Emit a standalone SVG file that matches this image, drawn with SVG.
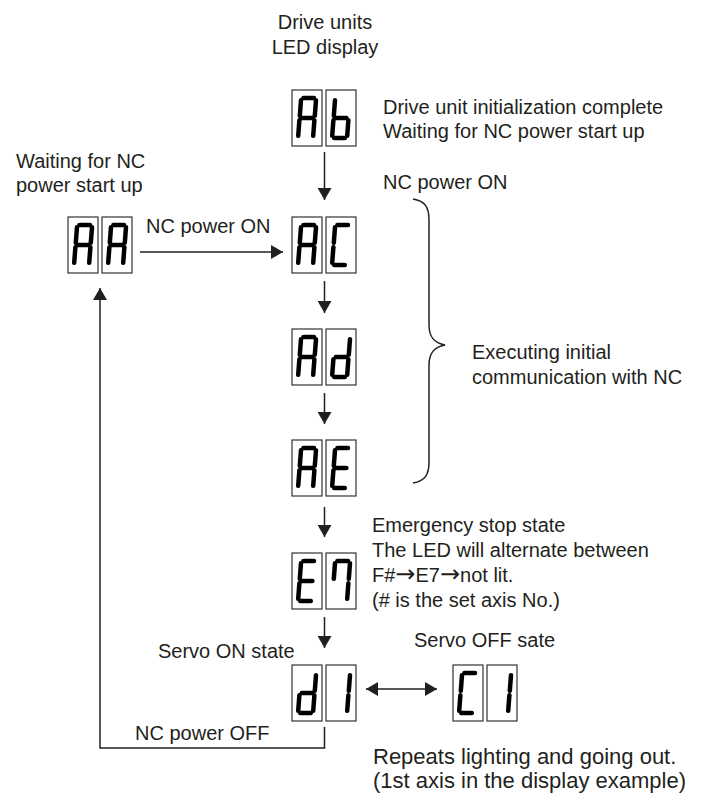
<svg xmlns="http://www.w3.org/2000/svg" xmlns:xlink="http://www.w3.org/1999/xlink" width="712" height="793" viewBox="0 0 712 793">
<style>
text{font-family:"Liberation Sans",Arial,sans-serif;font-size:20px;fill:#231f20}
.big{font-size:22px}
.arr{font-family:"DejaVu Sans",sans-serif;font-size:24px}
.box{fill:#fff;stroke:#333;stroke-width:1.2}
.seg{fill:none;stroke:#000;stroke-width:4.5;stroke-linecap:round}
.ln{fill:none;stroke:#231f20;stroke-width:1.5}
</style>
<defs>
<marker id="ah" viewBox="0 0 12 14" refX="12" refY="7" markerWidth="12" markerHeight="14" markerUnits="userSpaceOnUse" orient="auto-start-reverse">
<path d="M0 0L12 7L0 14z" fill="#231f20"/>
</marker>
<path id="dA" class="seg" d="M11.4 8H22M24 10.2L22.8 25.8M22.4 30.2L21.2 45.8M7.4 30.2L6.2 45.8M9 10.2L7.8 25.8M9.8 28H20.4"/>
<path id="db" class="seg" d="M22.4 30.2L21.2 45.8M8.2 48H18.8M7.4 30.2L6.2 45.8M9 10.2L7.8 25.8M9.8 28H20.4"/>
<path id="dC" class="seg" d="M11.4 8H22M8.2 48H18.8M7.4 30.2L6.2 45.8M9 10.2L7.8 25.8"/>
<path id="dd" class="seg" d="M24 10.2L22.8 25.8M22.4 30.2L21.2 45.8M8.2 48H18.8M7.4 30.2L6.2 45.8M9.8 28H20.4"/>
<path id="dE" class="seg" d="M11.4 8H22M8.2 48H18.8M7.4 30.2L6.2 45.8M9 10.2L7.8 25.8M9.8 28H20.4"/>
<path id="d7" class="seg" d="M11.4 8H22M24 10.2L22.8 25.8M22.4 30.2L21.2 45.8M9 10.2L7.8 25.8"/>
<path id="d1" class="seg" d="M24 10.2L22.8 25.8M22.4 30.2L21.2 45.8"/>
<rect id="bx" class="box" width="30" height="56"/>
</defs>

<g id="texts">
<text x="325" y="29" text-anchor="middle">Drive units</text>
<text x="325" y="54" text-anchor="middle">LED display</text>
<text x="383" y="114">Drive unit initialization complete</text>
<text x="383" y="138">Waiting for NC power start up</text>
<text x="16" y="168">Waiting for NC</text>
<text x="16" y="192">power start up</text>
</g>

<g id="node-Ab" transform="translate(292,90)">
<use href="#bx"/><use href="#bx" x="34"/>
<use href="#dA"/><use href="#db" x="34"/>
</g>
<g id="node-AA" transform="translate(68,217)">
<use href="#bx"/><use href="#bx" x="34"/>
<use href="#dA"/><use href="#dA" x="34"/>
</g>
<g id="node-AC" transform="translate(292,217)">
<use href="#bx"/><use href="#bx" x="34"/>
<use href="#dA"/><use href="#dC" x="34"/>
</g>
<g id="node-Ad" transform="translate(292,329)">
<use href="#bx"/><use href="#bx" x="34"/>
<use href="#dA"/><use href="#dd" x="34"/>
</g>
<g id="node-AE" transform="translate(292,440)">
<use href="#bx"/><use href="#bx" x="34"/>
<use href="#dA"/><use href="#dE" x="34"/>
</g>
<g id="node-E7" transform="translate(292,553)">
<use href="#bx"/><use href="#bx" x="34"/>
<use href="#dE"/><use href="#d7" x="34"/>
</g>
<g id="node-d1" transform="translate(292,665)">
<use href="#bx"/><use href="#bx" x="34"/>
<use href="#dd"/><use href="#d1" x="34"/>
</g>
<g id="node-C1" transform="translate(453,665)">
<use href="#bx"/><use href="#bx" x="34"/>
<use href="#dC"/><use href="#d1" x="34"/>
</g>

<g id="connectors">
<path class="ln" d="M324.5 152V200" marker-end="url(#ah)"/>
<path class="ln" d="M324.5 281V313" marker-end="url(#ah)"/>
<path class="ln" d="M324.5 393V424" marker-end="url(#ah)"/>
<path class="ln" d="M324.5 507V537" marker-end="url(#ah)"/>
<path class="ln" d="M324.5 617V648" marker-end="url(#ah)"/>
<path class="ln" d="M140 252H283" marker-end="url(#ah)"/>
<path class="ln" d="M366 689H437" marker-start="url(#ah)" marker-end="url(#ah)"/>
<path class="ln" d="M324.5 727V748H100V288" marker-end="url(#ah)"/>
<path id="brace" class="ln" d="M413 199C425 201 429 207 429 220V325C429 337 434 343 445 345C434 347 429 353 429 365V462C429 475 425 481 413 483"/>
</g>

<g id="labels">
<text x="383" y="189">NC power ON</text>
<text x="146" y="233">NC power ON</text>
<text x="472" y="359">Executing initial</text>
<text x="472" y="384">communication with NC</text>
<text x="372" y="532">Emergency stop state</text>
<text x="372" y="557">The LED will alternate between</text>
<text x="372" y="582">F#<tspan class="arr">→</tspan>E7<tspan class="arr">→</tspan>not lit.</text>
<text x="372" y="607">(# is the set axis No.)</text>
<text x="158" y="658">Servo ON state</text>
<text x="414" y="647">Servo OFF sate</text>
<text x="135" y="740">NC power OFF</text>
<text class="big" x="373" y="764">Repeats lighting and going out.</text>
<text class="big" x="373" y="788">(1st axis in the display example)</text>
</g>
</svg>
